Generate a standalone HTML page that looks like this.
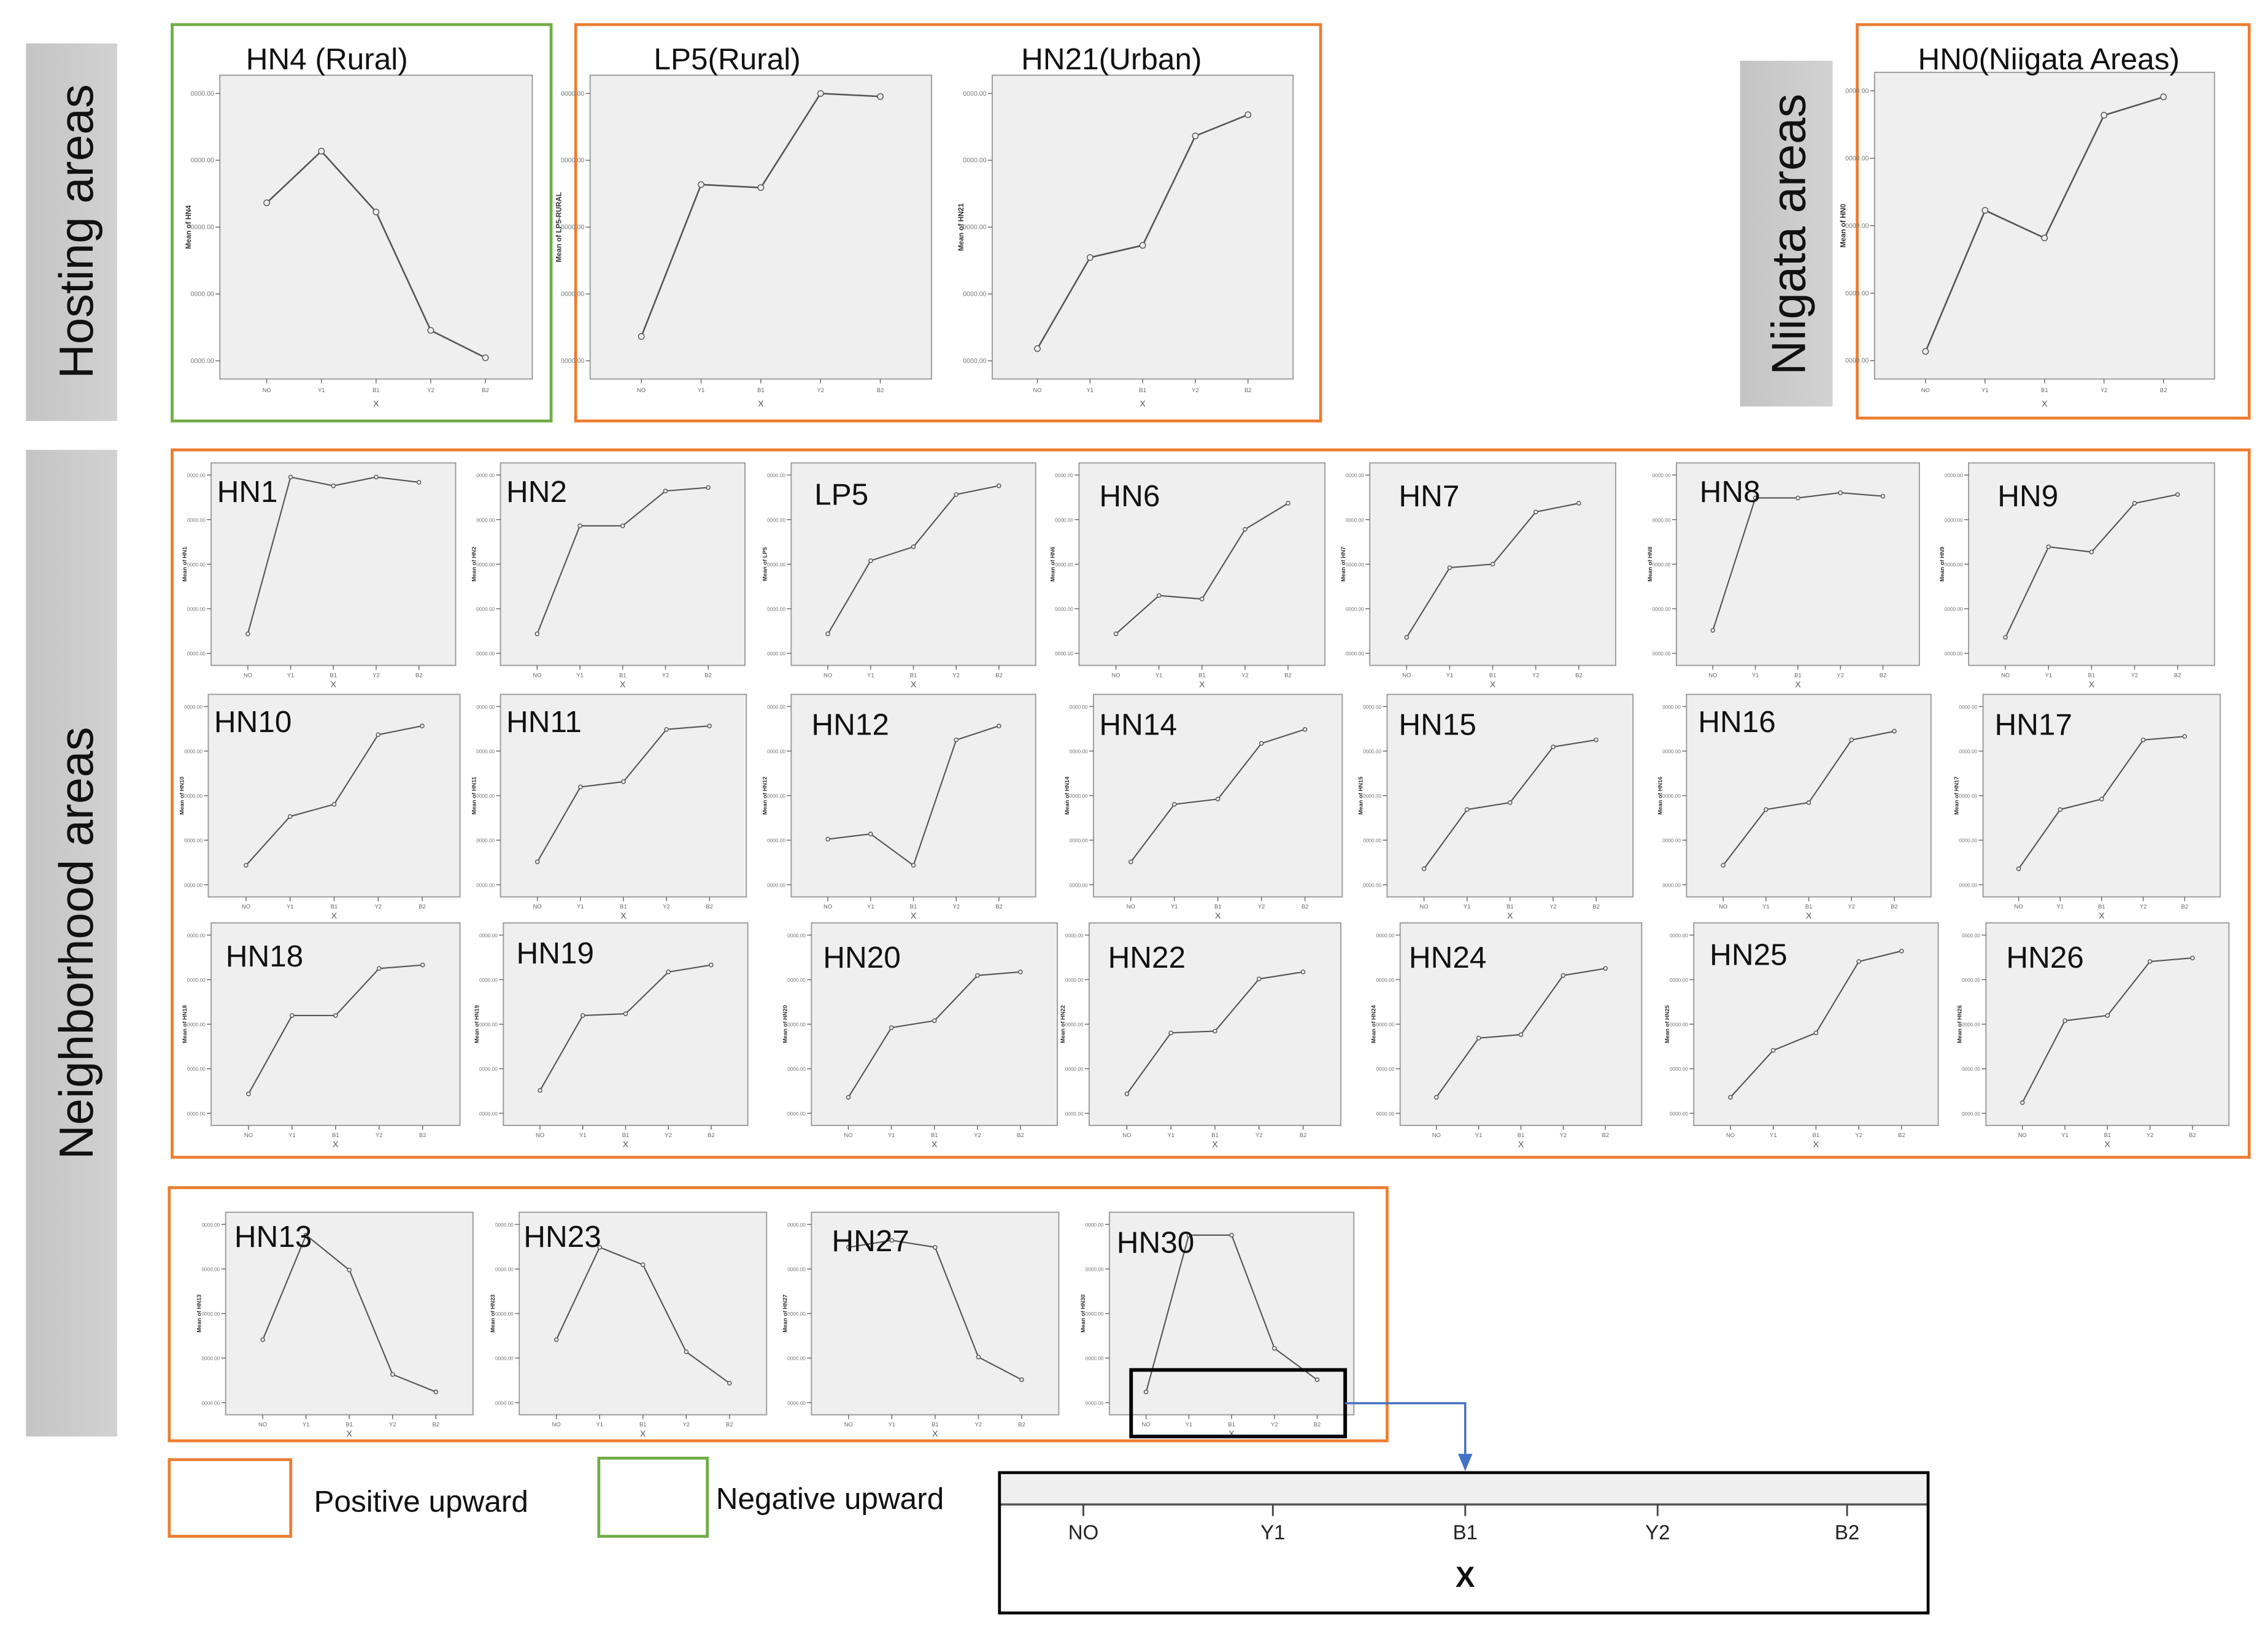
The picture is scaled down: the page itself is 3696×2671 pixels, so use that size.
<!DOCTYPE html>
<html><head><meta charset="utf-8"><style>
html,body{margin:0;padding:0;background:#fff;}
svg{display:block;font-family:"Liberation Sans",sans-serif;}
</style></head><body>
<svg id="fig" width="3696" height="2671" viewBox="0 0 1568 1133" preserveAspectRatio="none" xmlns="http://www.w3.org/2000/svg">
<defs>
<linearGradient id="gg" x1="0" x2="1"><stop offset="0" stop-color="#c4c4c4"/><stop offset="1" stop-color="#d2d2d2"/></linearGradient>
</defs>
<g id="static">
<rect x="18" y="30" width="63" height="261" fill="url(#gg)"/>
<text transform="translate(64,160) rotate(-90)" text-anchor="middle" font-size="33" fill="#111">Hosting areas</text>
<rect x="18" y="311" width="63" height="682" fill="url(#gg)"/>
<text transform="translate(64,652) rotate(-90)" text-anchor="middle" font-size="33" fill="#111">Neighborhood areas</text>
<rect x="1203" y="42" width="64" height="239" fill="url(#gg)"/>
<text transform="translate(1248,162) rotate(-90)" text-anchor="middle" font-size="33" fill="#111">Niigata areas</text>
<rect x="119" y="17" width="262" height="274" fill="none" stroke="#70ad47" stroke-width="2"/>
<rect x="398" y="17" width="515" height="274" fill="none" stroke="#ed7d31" stroke-width="2"/>
<rect x="1284" y="17" width="271" height="272" fill="none" stroke="#ed7d31" stroke-width="2"/>
<rect x="119" y="311" width="1436" height="489" fill="none" stroke="#ed7d31" stroke-width="2"/>
<rect x="117" y="821" width="842" height="175" fill="none" stroke="#ed7d31" stroke-width="2"/>
<rect x="117" y="1009" width="84" height="53" fill="none" stroke="#ed7d31" stroke-width="2"/>
<text x="217" y="1045" font-size="21" fill="#111">Positive upward</text>
<rect x="414" y="1008" width="75" height="54" fill="none" stroke="#70ad47" stroke-width="2"/>
<text x="495" y="1043" font-size="21" fill="#111">Negative upward</text>
<rect x="691" y="1018" width="642" height="22" fill="#efefef"/>
<line x1="691" y1="1040" x2="1333" y2="1040" stroke="#555" stroke-width="1.5"/>
<rect x="691" y="1018" width="642" height="97" fill="none" stroke="#000" stroke-width="2"/>
<text x="1013" y="1097" text-anchor="middle" font-size="20" font-weight="bold" fill="#111">X</text>
</g>
<g id="dyn"></g>
<g id="top">
<rect x="782" y="947" width="148" height="46" fill="none" stroke="#000" stroke-width="2.5"/>
<polyline points="930,970 1013,970 1013,1006" fill="none" stroke="#4472c4" stroke-width="1.5"/>
<polygon points="1008,1005 1018,1005 1013,1017" fill="#4472c4"/>
</g>
</svg>
<script>
const xCats = ["NO","Y1","B1","Y2","B2"];
const detailTickX = [749, 880, 1013, 1146, 1277];
// panel values (relative mean level, 0-100)
const hn4 = [58, 75, 55, 16, 7];
const lp5Top = [14, 64, 63, 94, 93];
const hn21 = [10, 40, 44, 80, 87];
const hn0 = [9, 55, 46, 86, 92];
const hn1 = [10, 100, 95, 100, 97];
const hn2 = [10, 72, 72, 92, 94];
const lp5 = [10, 52, 60, 90, 95];
const hn6 = [10, 32, 30, 70, 85];
const hn7 = [8, 48, 50, 80, 85];
const hn8 = [12, 88, 88, 91, 89];
const hn9 = [8, 60, 57, 85, 90];
const hn10 = [10, 38, 45, 85, 90];
const hn11 = [12, 55, 58, 88, 90];
const hn12 = [25, 28, 10, 82, 90];
const hn14 = [12, 45, 48, 80, 88];
const hn15 = [8, 42, 46, 78, 82];
const hn16 = [10, 42, 46, 82, 87];
const hn17 = [8, 42, 48, 82, 84];
const hn18 = [10, 55, 55, 82, 84];
const hn19 = [12, 55, 56, 80, 84];
const hn20 = [8, 48, 52, 78, 80];
const hn22 = [10, 45, 46, 76, 80];
const hn24 = [8, 42, 44, 78, 82];
const hn25 = [8, 35, 45, 86, 92];
const hn26 = [5, 52, 55, 86, 88];
const hn13 = [35, 95, 75, 15, 5];
const hn23 = [35, 88, 78, 28, 10];
const hn27 = [88, 92, 88, 25, 12];
const hn30 = [5, 95, 95, 30, 12];

const NS = "http://www.w3.org/2000/svg";
const dyn = document.getElementById("dyn");
function mk(tag, attrs, parent){
  const e = document.createElementNS(NS, tag);
  for (const k in attrs) e.setAttribute(k, attrs[k]);
  (parent || dyn).appendChild(e);
  return e;
}
xCats.forEach((c, i) => {
  const t = mk("line", {x1: detailTickX[i], y1: 1040, x2: detailTickX[i], y2: 1048, stroke: "#444", "stroke-width": 1.2});
  
  
  const l = mk("text", {x: detailTickX[i], y: 1064, "text-anchor": "middle", "font-size": 14, fill: "#222"});
  
  
  l.textContent = c;
});

function panel(id, title, x, y, w, h, vals, big, tx, ty, tsize){
  const g = mk("g", {});
  
  
  const r = mk("rect", {x: x, y: y, width: w, height: h, fill: "#efefef", stroke: "#9a9a9a", "stroke-width": 0.8}, g);
  
  
  const sx = i => x + w * (0.15 + i * 0.175);
  const sy = big ? (v => y + h - (v / 100) * h) : (v => y + h * 0.93 - (v / 100) * h * 0.86);
  for (let k = 0; k < 5; k++) {
    const yy = y + h * (0.06 + k * 0.22);
    const tk = mk("line", {x1: x - 3, y1: yy, x2: x, y2: yy, stroke: "#666", "stroke-width": 0.6}, g);
    
    
    const tl = mk("text", {x: x - 4, y: yy + 1.5, "text-anchor": "end", "font-size": big ? 4.5 : 3.5, fill: "#777"}, g);
    
    
    tl.textContent = "0000.00";
  }
  const yt = mk("text", {transform: "translate(" + (x - (big ? 20 : 17)) + "," + (y + h / 2) + ") rotate(-90)", "text-anchor": "middle", "font-size": big ? 5 : 4, "font-weight": "bold", fill: "#333"}, g);
  
  
  yt.textContent = "Mean of " + id.toUpperCase();
  vals.forEach((v, i) => {
    const tk = mk("line", {x1: sx(i), y1: y + h, x2: sx(i), y2: y + h + 3, stroke: "#666", "stroke-width": 0.6}, g);
    
    
    const tl = mk("text", {x: sx(i), y: y + h + (big ? 9 : 8), "text-anchor": "middle", "font-size": 4, fill: "#666"}, g);
    
    
    tl.textContent = xCats[i];
  });
  const xt = mk("text", {x: x + w / 2, y: y + h + (big ? 19 : 15), "text-anchor": "middle", "font-size": 6, fill: "#555"}, g);
  
  
  xt.textContent = "X";
  const pts = vals.map((v, i) => sx(i).toFixed(1) + "," + sy(v).toFixed(1)).join(" ");
  const pl = mk("polyline", {points: pts, fill: "none", stroke: "#555", "stroke-width": big ? 1.1 : 0.9}, g);
  
  
  vals.forEach((v, i) => {
    const c = mk("circle", {cx: sx(i), cy: sy(v), r: big ? 2 : 1.3, fill: "#eee", stroke: "#555", "stroke-width": 0.6}, g);
    
    
  });
  const t = mk("text", {x: tx, y: ty, "font-size": tsize, fill: "#111"}, g);
  
  
  t.textContent = title;
}

panel("hn4", "HN4 (Rural)", 152, 52, 216, 210, hn4, true, 170, 48, 21);
panel("lp5-rural", "LP5(Rural)", 408, 52, 236, 210, lp5Top, true, 452, 48, 21);
panel("hn21", "HN21(Urban)", 686, 52, 208, 210, hn21, true, 706, 48, 21);
panel("hn0", "HN0(Niigata Areas)", 1296, 50, 235, 212, hn0, true, 1326, 48, 21);

const r1y = 320, r2y = 480, r3y = 638, r4y = 838, rh = 140;
panel("hn1", "HN1", 146, r1y, 169, rh, hn1, false, 150, r1y + 27, 21);
panel("hn2", "HN2", 346, r1y, 169, rh, hn2, false, 350, r1y + 27, 21);
panel("lp5", "LP5", 547, r1y, 169, rh, lp5, false, 563, r1y + 29, 21);
panel("hn6", "HN6", 746, r1y, 170, rh, hn6, false, 760, r1y + 30, 21);
panel("hn7", "HN7", 947, r1y, 170, rh, hn7, false, 967, r1y + 30, 21);
panel("hn8", "HN8", 1159, r1y, 168, rh, hn8, false, 1175, r1y + 27, 21);
panel("hn9", "HN9", 1361, r1y, 170, rh, hn9, false, 1381, r1y + 30, 21);
panel("hn10", "HN10", 144, r2y, 174, rh, hn10, false, 148, r2y + 26, 21);
panel("hn11", "HN11", 346, r2y, 170, rh, hn11, false, 350, r2y + 26, 21);
panel("hn12", "HN12", 547, r2y, 169, rh, hn12, false, 561, r2y + 28, 21);
panel("hn14", "HN14", 756, r2y, 172, rh, hn14, false, 760, r2y + 28, 21);
panel("hn15", "HN15", 959, r2y, 170, rh, hn15, false, 967, r2y + 28, 21);
panel("hn16", "HN16", 1166, r2y, 169, rh, hn16, false, 1174, r2y + 26, 21);
panel("hn17", "HN17", 1371, r2y, 164, rh, hn17, false, 1379, r2y + 28, 21);
panel("hn18", "HN18", 146, r3y, 172, rh, hn18, false, 156, r3y + 30, 21);
panel("hn19", "HN19", 348, r3y, 169, rh, hn19, false, 357, r3y + 28, 21);
panel("hn20", "HN20", 561, r3y, 170, rh, hn20, false, 569, r3y + 31, 21);
panel("hn22", "HN22", 753, r3y, 174, rh, hn22, false, 766, r3y + 31, 21);
panel("hn24", "HN24", 968, r3y, 167, rh, hn24, false, 974, r3y + 31, 21);
panel("hn25", "HN25", 1171, r3y, 169, rh, hn25, false, 1182, r3y + 29, 21);
panel("hn26", "HN26", 1373, r3y, 168, rh, hn26, false, 1387, r3y + 31, 21);
panel("hn13", "HN13", 156, r4y, 171, rh, hn13, false, 162, r4y + 24, 21);
panel("hn23", "HN23", 359, r4y, 171, rh, hn23, false, 362, r4y + 24, 21);
panel("hn27", "HN27", 561, r4y, 171, rh, hn27, false, 575, r4y + 27, 21);
panel("hn30", "HN30", 767, r4y, 169, rh, hn30, false, 772, r4y + 28, 21);
</script>
</body></html>
